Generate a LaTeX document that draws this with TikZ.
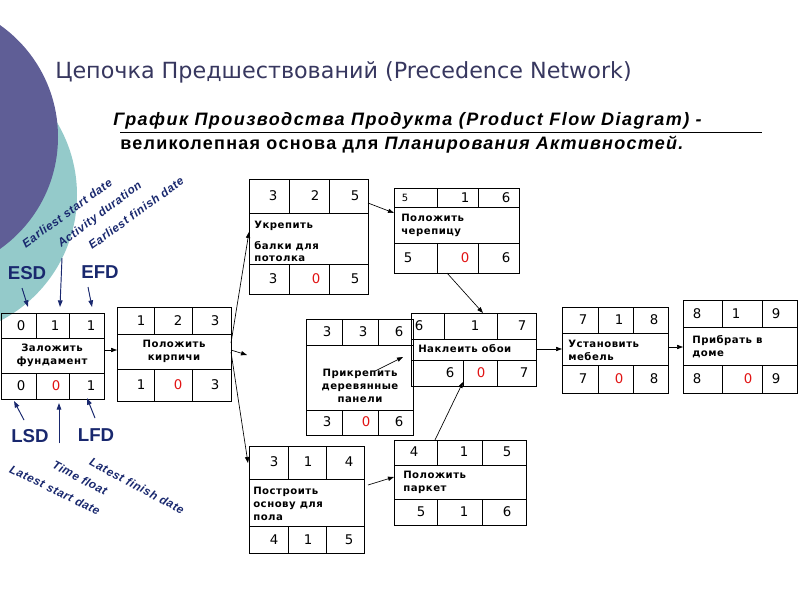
\documentclass[tikz,border=0pt]{standalone}
\usepackage{fontspec}
\setmainfont{DejaVu Sans}
\newfontfamily\dvs{DejaVu Sans}
\newfontfamily\boxfont[LetterSpace=5]{DejaVu Sans}
\newfontfamily\arialf[LetterSpace=8]{Liberation Sans}
\newfontfamily\arialg[LetterSpace=7]{Liberation Sans}
\newfontfamily\arialplain{Liberation Sans}
\newfontfamily\lblfont[LetterSpace=5]{Liberation Sans}
\usetikzlibrary{arrows.meta,fit,calc}
\definecolor{purplec}{RGB}{95,94,150}
\definecolor{tealc}{RGB}{148,202,202}
\definecolor{titlec}{RGB}{55,55,95}
\definecolor{navy}{RGB}{25,40,110}
\definecolor{redc}{RGB}{225,20,20}
\newcommand\actbox[9]{%
  \node[boxst, fit={(#2,#4) (#3,#7)}] (#1) {};
  \draw[gridst] (#2,#5) -- (#3,#5) (#2,#6) -- (#3,#6)
     (#8,#4) -- (#8,#5) (#9,#4) -- (#9,#5) (#8,#6) -- (#8,#7) (#9,#6) -- (#9,#7);}
\tikzset{
  boxst/.style={draw, line width=0.6pt, inner sep=0pt},
  gridst/.style={line width=0.6pt},
  num/.style={font=\dvs\fontsize{10}{12}\selectfont, inner sep=0pt},
  rnum/.style={num, text=redc},
  txt/.style={font=\boxfont\bfseries\fontsize{7.6}{9.75}\selectfont, inner sep=0pt},
  conn/.style={-{Triangle[length=4.5pt,width=3.2pt]}, line width=0.5pt},
  larr/.style={-{Triangle[length=5pt,width=3.5pt]}, line width=0.7pt, draw=navy, fill=navy},
  rlbl/.style={font=\lblfont\bfseries\itshape\fontsize{8.8}{10}\selectfont, text=navy, inner sep=0pt},
  big/.style={font=\arialplain\bfseries\fontsize{14}{16}\selectfont, text=navy, inner sep=0pt}
}
\begin{document}
\begin{tikzpicture}[x=0.75pt,y=-0.75pt]
\useasboundingbox (0,0) rectangle (800,600);
\begin{scope}
\clip (0,0) rectangle (800,600);
\fill[tealc] (-64.4,195) circle[radius=106.05pt];
\fill[purplec] (-79,137) circle[radius=102.75pt];
\end{scope}

% titles
\node[anchor=west, inner sep=0pt, text=titlec, font=\dvs\fontsize{16.7}{19}\selectfont] (title) at (55,72) {Цепочка Предшествований (Precedence Network)};
\node[anchor=west, inner sep=0pt, font=\arialf\bfseries\itshape\fontsize{13.5}{16}\selectfont] (sub1) at (113,121) {График Производства Продукта (Product Flow Diagram) -};
\node[anchor=west, inner sep=0pt, font=\arialg\bfseries\fontsize{13.5}{16}\selectfont] (sub2) at (120,145) {великолепная основа для \itshape Планирования Активностей.};
\draw[line width=0.6pt] (120,132) -- (762,132);

% boxes
\actbox{A}{1}{104}{313}{338}{373}{399}{36}{69}
\actbox{B}{117}{231}{307}{334}{369}{401}{154}{192}
\actbox{C}{249}{368}{179}{213}{264}{294}{289}{329}
\actbox{D}{394}{519}{188}{207}{243}{273}{437}{478}
\actbox{E}{306}{413}{319}{345}{410}{435}{342}{378}
\node[boxst, fit={(411,313) (536,386)}] (F) {};
\draw[gridst] (411,339) -- (536,339) (411,360) -- (536,360)
  (444,313) -- (444,339) (497,313) -- (497,339) (463,360) -- (463,386) (497,360) -- (497,386);
\actbox{G}{249}{364}{446}{479}{526}{553}{288}{326}
\actbox{H}{394}{526}{440}{465}{499}{525}{437}{482}
\actbox{I}{562}{668}{307}{333}{365}{393}{598}{633}
\actbox{J}{683}{797}{300}{327}{365}{393}{722}{762}

% numbers
\node[num] (a1) at (21,325.5) {0}; \node[num] (a2) at (55,325.5) {1}; \node[num] (a3) at (91,325.5) {1};
\node[num] (a4) at (21,386) {0}; \node[rnum] (a5) at (56,386) {0}; \node[num] (a6) at (91,386) {1};
\node[num] (b1) at (141,320.5) {1}; \node[num] (b2) at (178,320.5) {2}; \node[num] (b3) at (215,320.5) {3};
\node[num] (b4) at (141,385) {1}; \node[rnum] (b5) at (178,385) {0}; \node[num] (b6) at (215,385) {3};
\node[num] (c1) at (273,196) {3}; \node[num] (c2) at (315,196) {2}; \node[num] (c3) at (355,196) {5};
\node[num] (c4) at (273,279) {3}; \node[rnum] (c5) at (316,279) {0}; \node[num] (c6) at (355,279) {5};
\node[num, font=\dvs\fontsize{7.5}{9}\selectfont] (d1) at (405,197.5) {5}; \node[num] (d2) at (465,197.5) {1}; \node[num] (d3) at (506,197.5) {6};
\node[num] (d4) at (408,258) {5}; \node[rnum] (d5) at (465,258) {0}; \node[num] (d6) at (506,258) {6};
\node[num] (e1) at (327,332) {3}; \node[num] (e2) at (363,332) {3}; \node[num] (e3) at (399,332) {6};
\node[num] (e4) at (327,422) {3}; \node[rnum] (e5) at (366,422) {0}; \node[num] (e6) at (399,422) {6};
\node[num] (f1) at (419,326) {6}; \node[num] (f2) at (475,326) {1}; \node[num] (f3) at (522,326) {7};
\node[num] (f4) at (450,373) {6}; \node[rnum] (f5) at (481,373) {0}; \node[num] (f6) at (524,373) {7};
\node[num] (g1) at (274,462) {3}; \node[num] (g2) at (308,462) {1}; \node[num] (g3) at (349,462) {4};
\node[num] (g4) at (274,540) {4}; \node[num] (g5) at (308,540) {1}; \node[num] (g6) at (349,540) {5};
\node[num] (h1) at (414,452) {4}; \node[num] (h2) at (464,452) {1}; \node[num] (h3) at (507,452) {5};
\node[num] (h4) at (421,512) {5}; \node[num] (h5) at (464,512) {1}; \node[num] (h6) at (507,512) {6};
\node[num] (i1) at (583,320) {7}; \node[num] (i2) at (619,320) {1}; \node[num] (i3) at (654,320) {8};
\node[num] (i4) at (583,379) {7}; \node[rnum] (i5) at (619,379) {0}; \node[num] (i6) at (654,379) {8};
\node[num] (j1) at (697,313.5) {8}; \node[num] (j2) at (736,313.5) {1}; \node[num] (j3) at (776,313.5) {9};
\node[num] (j4) at (697,379) {8}; \node[rnum] (j5) at (748,379) {0}; \node[num] (j6) at (776,379) {9};

% texts
\node[txt, align=center] (ta) at (52,355.5) {Заложить\\фундамент};
\node[txt, align=center] (tb) at (174,351.5) {Положить\\кирпичи};
\node[txt, anchor=west] (tc1) at (254,226) {Укрепить};
\node[txt, anchor=west, align=left, font=\boxfont\bfseries\fontsize{7.6}{9}\selectfont] (tc2) at (254,252) {балки для\\потолка};
\node[txt, anchor=west, align=left] (td) at (401,225.5) {Положить\\черепицу};
\node[txt, align=center] (te) at (360,386) {Прикрепить\\деревянные\\панели};
\node[txt, anchor=west] (tf) at (418,349) {Наклеить обои};
\node[txt, anchor=west, align=left] (tg) at (253,503.5) {Построить\\основу для\\пола};
\node[txt, anchor=west, align=left] (th) at (403,482.5) {Положить\\паркет};
\node[txt, anchor=west, align=left] (ti) at (568,350) {Установить\\мебель};
\node[txt, anchor=west, align=left] (tj) at (692,346.5) {Прибрать в\\доме};

% connector end points
\coordinate (A-o) at (104,350); \coordinate (B-i) at (117,350);
\coordinate (B-o1) at (231,343); \coordinate (C-i) at (249,232);
\coordinate (B-o2) at (231,350); \coordinate (stub) at (247,355);
\coordinate (B-o3) at (231,352); \coordinate (G-i) at (248,463);
\coordinate (C-o) at (368,203); \coordinate (D-i) at (394,213);
\coordinate (D-o) at (447,273); \coordinate (F-i1) at (483,313);
\coordinate (E-o) at (375,371); \coordinate (E-t) at (403,357);
\coordinate (H-o) at (435,440); \coordinate (F-i2) at (463,382);
\coordinate (G-o) at (368,485); \coordinate (H-i) at (394,477);
\coordinate (F-o) at (536,349); \coordinate (I-i) at (562,349);
\coordinate (I-o) at (668,347); \coordinate (J-i) at (683,347);

\draw[conn] (A-o) -- (B-i);
\draw[conn] (B-o1) -- (C-i);
\draw[conn] (B-o2) -- (stub);
\draw[conn] (B-o3) -- (G-i);
\draw[conn] (C-o) -- (D-i);
\draw[conn] (D-o) -- (F-i1);
\draw[conn] (E-o) -- (E-t);
\draw[conn] (H-o) -- (F-i2);
\draw[conn] (G-o) -- (H-i);
\draw[conn] (F-o) -- (I-i);
\draw[conn] (I-o) -- (J-i);

% legend labels
\node[rlbl, rotate=36] (l1) at (67,213) {Earliest start date};
\node[rlbl, rotate=37] (l2) at (100,215) {Activity duration};
\node[rlbl, rotate=36] (l3) at (136,213) {Earliest finish date};
\node[big] (esd) at (27,273) {ESD};
\node[big] (efd) at (100,272) {EFD};
\node[big] (lsd) at (30,436) {LSD};
\node[big] (lfd) at (96,435) {LFD};
\node[rlbl, rotate=-28] (l4) at (137,486) {Latest finish date};
\node[rlbl, rotate=-28] (l5) at (80,478) {Time float};
\node[rlbl, rotate=-26] (l6) at (55,490) {Latest start date};

\coordinate (esd-s) at (22,288); \coordinate (esd-t) at (28,307);
\coordinate (dur-s) at (62,258); \coordinate (dur-t) at (60,307);
\coordinate (efd-s) at (88,287); \coordinate (efd-t) at (92,307);
\coordinate (lsd-s) at (24,420); \coordinate (lsd-t) at (14,401);
\coordinate (fl-s) at (59,443); \coordinate (fl-t) at (59,403);
\coordinate (lfd-s) at (95,418); \coordinate (lfd-t) at (87,398);
\draw[larr] (esd-s) -- (esd-t);
\draw[larr] (dur-s) -- (dur-t);
\draw[larr] (efd-s) -- (efd-t);
\draw[larr] (lsd-s) -- (lsd-t);
\draw[larr] (fl-s) -- (fl-t);
\draw[larr] (lfd-s) -- (lfd-t);
\end{tikzpicture}
\end{document}
